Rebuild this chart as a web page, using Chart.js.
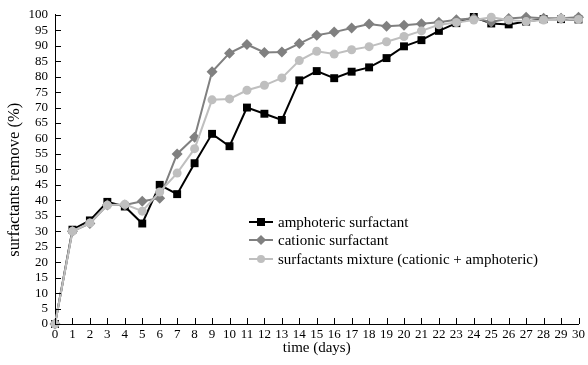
<!DOCTYPE html>
<html>
<head>
<meta charset="utf-8">
<script src="https://cdn.jsdelivr.net/npm/chart.js@4/dist/chart.umd.min.js"></script>
<style>
    html, body { margin: 0; padding: 0; background: #fff; }
    #wrap { position: relative; width: 588px; height: 365px; }
    #legend { position: absolute; left: 249px; top: 213px; font-family: "Liberation Serif", serif; font-size: 15px; color: #000; }
    .row { height: 18.3px; line-height: 18.3px; white-space: nowrap; display: flex; align-items: center; }
    .key { position: relative; width: 24px; height: 18px; margin-right: 5px; }
    .key .ln { position: absolute; left: 0; right: 0; top: 8px; height: 2px; }
    .key .mk { position: absolute; left: 8px; top: 5px; width: 8px; height: 8px; }
</style>
</head>
<body>
<div id="wrap">
    <canvas id="grafico" width="588" height="365"></canvas>
    <div id="legend"></div>
</div>
<script>
// Datos
const dias = ['0','1','2','3','4','5','6','7','8','9','10','11','12','13','14','15','16','17','18','19','20','21','22','23','24','25','26','27','28','29','30'];
const anfotero = [0, 30.5, 33.5, 39.5, 38, 32.5, 45, 42, 52, 61.5, 57.5, 70, 68, 66, 78.8, 81.8, 79.5, 81.6, 83, 86, 89.8, 91.8, 94.8, 97.3, 99.3, 97.2, 96.9, 97.8, 98.6, 98.6, 98.5];
const cationico = [0, 30, 32.5, 38.5, 38.5, 39.7, 40.7, 55, 60.4, 81.6, 87.6, 90.4, 87.8, 88, 90.7, 93.4, 94.4, 95.7, 97, 96.3, 96.6, 97.1, 97.6, 98.4, 98.9, 97.7, 98.8, 99.2, 98.9, 98.9, 99.2];
const mezcla = [0, 30, 32.7, 38.4, 38.7, 36.5, 42.7, 48.8, 56.7, 72.5, 72.8, 75.6, 77.2, 79.6, 85.2, 88.2, 87.3, 88.7, 89.7, 91.3, 93, 94.8, 96.8, 97.5, 98.3, 99.2, 98.3, 97.8, 98.3, 98.8, 98.5];
const yTicks = [0, 5, 10, 15, 20, 25, 30, 35, 40, 45, 50, 55, 60, 65, 70, 75, 80, 85, 90, 95, 100];

const nombres = ['amphoteric surfactant', 'cationic surfactant', 'surfactants mixture (cationic + amphoteric)'];
const colores = ['#000000', '#808080', '#bfbfbf'];

const fuente = { family: "'Liberation Serif', 'Times New Roman', serif", size: 13 };

// marcas de eje hacia adentro
const marcasInternas = {
    id: 'marcasInternas',
    afterDraw(chart) {
        const { ctx, chartArea, scales } = chart;
        ctx.save();
        ctx.strokeStyle = '#000';
        ctx.lineWidth = 1;
        ctx.beginPath();
        scales.x.ticks.forEach((t, i) => {
            const px = Math.round(scales.x.getPixelForTick(i)) + 0.5;
            ctx.moveTo(px, chartArea.bottom);
            ctx.lineTo(px, chartArea.bottom - 6);
        });
        scales.y.ticks.forEach((t, i) => {
            const py = Math.round(scales.y.getPixelForTick(i)) + 0.5;
            ctx.moveTo(chartArea.left, py);
            ctx.lineTo(chartArea.left + 6, py);
        });
        ctx.stroke();
        ctx.restore();
    }
};

const ctx = document.getElementById('grafico').getContext('2d');
new Chart(ctx, {
    type: 'line',
    data: {
        labels: dias,
        datasets: [
            {
                label: nombres[0], data: anfotero, order: 2,
                borderColor: colores[0], backgroundColor: colores[0], borderWidth: 2,
                pointStyle: 'rect', pointRadius: 5.6, pointBorderWidth: 0, tension: 0, clip: false
            },
            {
                label: nombres[1], data: cationico, order: 1,
                borderColor: colores[1], backgroundColor: colores[1], borderWidth: 2,
                pointStyle: 'rectRot', pointRadius: 5.5, pointBorderWidth: 0, tension: 0, clip: false
            },
            {
                label: nombres[2], data: mezcla, order: 0,
                borderColor: colores[2], backgroundColor: colores[2], borderWidth: 2,
                pointStyle: 'circle', pointRadius: 4.5, pointBorderWidth: 0, tension: 0, clip: false
            }
        ]
    },
    options: {
        responsive: false,
        animation: false,
        layout: { padding: { top: 14, right: 4, left: 0, bottom: 0 } },
        plugins: { legend: { display: false }, tooltip: { enabled: false } },
        scales: {
            x: {
                offset: false,
                grid: { display: false, drawTicks: false },
                border: { color: '#000', width: 1 },
                ticks: { color: '#000', font: fuente, maxRotation: 0, autoSkip: false, padding: 3 },
                title: { display: true, text: 'time (days)', color: '#000', font: { family: fuente.family, size: 15 }, padding: { top: 4, bottom: 8 } },
                afterFit: s => { s.height = 41; }
            },
            y: {
                min: 0, max: 100,
                afterBuildTicks: s => { s.ticks = yTicks.map(v => ({ value: v })); },
                grid: { display: false, drawTicks: false },
                border: { color: '#000', width: 1 },
                ticks: { color: '#000', font: fuente, padding: 7, autoSkip: false },
                title: { display: true, text: 'surfactants remove (%)\u00a0\u00a0\u00a0\u00a0\u00a0', color: '#000', font: { family: fuente.family, size: 16.5 }, padding: { top: 5, bottom: 0 } },
                afterFit: s => { s.width = 55; }
            }
        }
    },
    plugins: [marcasInternas]
});

// leyenda en HTML
const leyenda = document.getElementById('legend');
const formas = ['', 'transform: rotate(45deg) scale(0.9);', 'border-radius: 50%;'];
nombres.forEach((n, i) => {
    const fila = document.createElement('div');
    fila.className = 'row';
    fila.innerHTML = '<span class="key"><span class="ln" style="background:' + colores[i] + '"></span>' +
        '<span class="mk" style="background:' + colores[i] + ';' + formas[i] + '"></span></span>' + n;
    leyenda.appendChild(fila);
});
</script>
</body>
</html>
